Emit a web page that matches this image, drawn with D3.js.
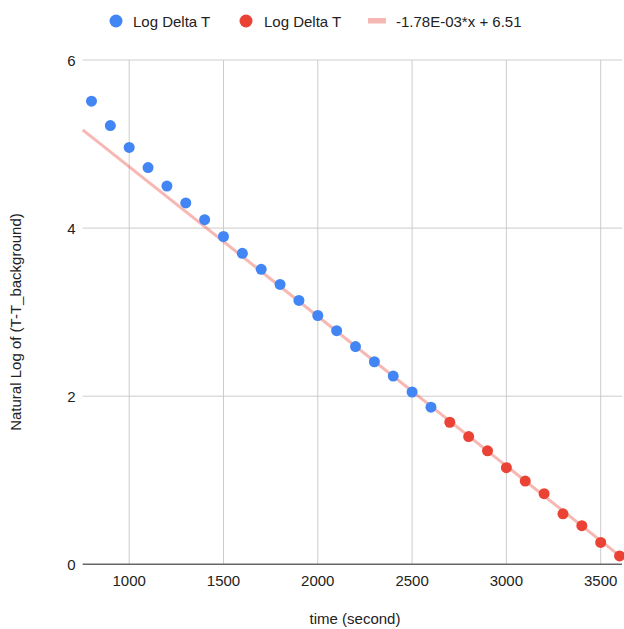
<!DOCTYPE html>
<html>
<head>
<meta charset="utf-8">
<script src="https://cdn.jsdelivr.net/npm/d3@7"></script>
<style>
  body { margin: 0; background: #fff; }
  text { font-family: "Liberation Sans", Arial, sans-serif; }
</style>
</head>
<body>
<svg id="svg" width="624" height="629"></svg>
<script>
// time (second) and log values
const blueTimes = [800, 900, 1000, 1100, 1200, 1300, 1400, 1500, 1600, 1700,
                   1800, 1900, 2000, 2100, 2200, 2300, 2400, 2500, 2600];
const blueValues = [5.51, 5.22, 4.96, 4.72, 4.50, 4.30, 4.10, 3.90, 3.70, 3.51,
                    3.33, 3.14, 2.96, 2.78, 2.59, 2.41, 2.24, 2.05, 1.87];
const redTimes = [2700, 2800, 2900, 3000, 3100, 3200, 3300, 3400, 3500, 3600];
const redValues = [1.69, 1.52, 1.35, 1.15, 0.99, 0.84, 0.60, 0.46, 0.26, 0.10];
const trendSlope = -1.78e-3;
const trendIntercept = 6.51;
const xTicks = [1000, 1500, 2000, 2500, 3000, 3500];
const yTicks = [0, 2, 4, 6];
const legendLabels = ["Log Delta T", "Log Delta T", "-1.78E-03*x + 6.51"];

const blue = "#4285f4", red = "#ea4335";

const svg = d3.select("#svg");
const x = d3.scaleLinear().domain([753.5, 3613]).range([82.7, 622]);
const y = d3.scaleLinear().domain([0, 6]).range([564.3, 60]);

// grid
svg.append("g").selectAll("line").data(xTicks).join("line")
    .attr("x1", d => x(d)).attr("x2", d => x(d))
    .attr("y1", y(6)).attr("y2", y(0))
    .attr("stroke", "#cccccc").attr("stroke-width", 1);
svg.append("g").selectAll("line").data(yTicks.filter(d => d != 0)).join("line")
    .attr("x1", x.range()[0]).attr("x2", x.range()[1])
    .attr("y1", d => y(d)).attr("y2", d => y(d))
    .attr("stroke", "#cccccc").attr("stroke-width", 1);

// tick labels
svg.append("g").selectAll("text").data(xTicks).join("text")
    .attr("x", d => x(d)).attr("y", 585.5)
    .attr("text-anchor", "middle").style("font-size", "15px").style("fill", "#222")
    .text(d => d);
svg.append("g").selectAll("text").data(yTicks).join("text")
    .attr("x", 75.5).attr("y", d => y(d) + 5.5)
    .attr("text-anchor", "end").style("font-size", "15px").style("fill", "#222")
    .text(d => d);

// trendline
const line = d3.line().x(d => x(d)).y(d => y(trendSlope * d + trendIntercept));
svg.append("path").datum(x.domain())
    .attr("d", line).attr("fill", "none")
    .attr("stroke", red).attr("stroke-opacity", 0.38).attr("stroke-width", 3);

// baseline
svg.append("line")
    .attr("x1", x.range()[0]).attr("x2", x.range()[1])
    .attr("y1", y(0)).attr("y2", y(0))
    .attr("stroke", "#666").attr("stroke-width", 1.5);

// points
svg.append("g").selectAll("circle").data(d3.zip(blueTimes, blueValues)).join("circle")
    .attr("cx", d => x(d[0])).attr("cy", d => y(d[1])).attr("r", 5.5).attr("fill", blue);
svg.append("g").selectAll("circle").data(d3.zip(redTimes, redValues)).join("circle")
    .attr("cx", d => x(d[0])).attr("cy", d => y(d[1])).attr("r", 5.5).attr("fill", red);

// legend
const lg = svg.append("g");
lg.append("circle").attr("cx", 116).attr("cy", 21).attr("r", 6.5).attr("fill", blue);
lg.append("text").attr("x", 133).attr("y", 26.5).style("font-size", "15px").style("fill", "#222").text(legendLabels[0]);
lg.append("circle").attr("cx", 246).attr("cy", 21).attr("r", 6.5).attr("fill", red);
lg.append("text").attr("x", 264).attr("y", 26.5).style("font-size", "15px").style("fill", "#222").text(legendLabels[1]);
lg.append("rect").attr("x", 368).attr("y", 18).attr("width", 18).attr("height", 5.5)
    .attr("fill", red).attr("fill-opacity", 0.38);
lg.append("text").attr("x", 396).attr("y", 26.5).style("font-size", "15px").style("fill", "#222").text(legendLabels[2]);

// axis titles
svg.append("text").attr("x", 355).attr("y", 624)
    .attr("text-anchor", "middle").style("font-size", "15px").style("fill", "#222")
    .text("time (second)");
svg.append("text").attr("transform", "translate(21,322) rotate(-90)")
    .attr("text-anchor", "middle").style("font-size", "15px").style("fill", "#222")
    .text("Natural Log of (T-T_background)");
</script>
</body>
</html>
